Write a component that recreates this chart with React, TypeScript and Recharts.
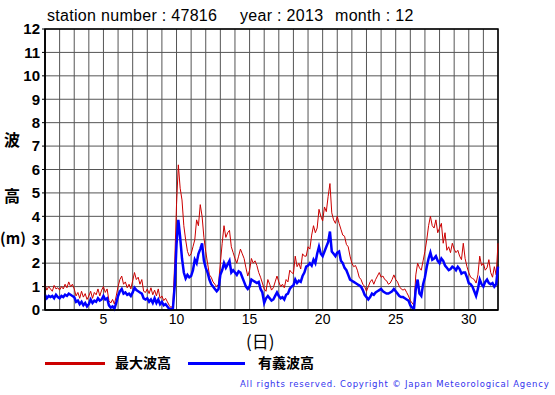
import React from "react";
import {
  LineChart,
  Line,
  XAxis,
  YAxis,
  CartesianGrid,
  ReferenceArea,
} from "recharts";

// Sample times: every 3 hours from day 1.0 to day 32.0
const stepsPerDay = 8;

// 最大波高 (max wave height, m)
const maxWave = [
  1.1, 0.85, 1.0, 0.9, 0.8, 1.05, 0.9, 0.95,
  0.85, 1.0, 0.9, 1.1, 0.95, 1.2, 1.0, 1.1,
  0.9, 0.6, 0.75, 0.5, 0.8, 0.55, 0.7, 0.45,
  0.6, 0.8, 0.5, 0.75, 0.65, 0.9, 0.6, 0.85,
  1.0, 0.75, 0.9, 0.4, 0.3, 0.45, 0.25, 0.6,
  1.0, 1.3, 1.45, 1.1, 1.2, 0.95, 1.1, 0.9,
  1.25, 1.6, 1.3, 1.4, 1.1, 1.3, 0.8, 0.75,
  0.9, 0.7, 0.95, 0.65, 0.85, 0.6, 0.9, 0.5,
  0.6, 0.4, 0.5, 0.35, 0.2, 0.1, 0.2, 2.0,
  4.5, 6.2, 5.2, 4.7, 3.6, 3.0, 2.5, 2.3,
  2.4, 2.7, 3.0, 3.85, 3.6, 4.5, 4.0, 3.1,
  2.5, 2.0, 1.5, 1.4, 1.2, 1.1, 1.0, 1.1,
  2.0, 2.85, 3.6, 3.1, 3.3, 3.4, 2.7, 2.45,
  2.2, 2.0, 2.3, 2.6, 2.4, 2.2, 1.8, 1.45,
  1.7, 2.2, 2.0, 2.1, 1.9, 1.6, 1.4, 1.15,
  0.9, 0.8, 1.3, 1.1, 0.85, 0.95, 1.2, 1.45,
  1.2, 1.0, 1.1, 0.95, 1.3, 1.2, 1.7, 1.6,
  1.55, 2.3, 1.85, 2.0, 1.75, 2.4, 2.3, 2.3,
  2.7, 2.6, 3.2, 3.6, 3.3, 3.5, 4.3, 4.0,
  3.8, 4.4, 4.2, 4.85, 5.4, 4.15, 3.85, 3.7,
  4.0, 3.7, 3.45, 3.2, 3.15, 2.8, 2.7, 2.3,
  2.0, 1.85, 1.9, 1.7, 1.4, 1.3, 1.1, 1.0,
  0.8, 1.0, 1.2, 1.3, 1.1, 1.3, 1.45, 1.6,
  1.4, 1.45, 1.3, 1.25, 1.1, 1.15, 1.3, 1.5,
  1.3, 1.2, 1.0, 0.9, 0.85, 0.9, 0.75, 0.6,
  0.4, 0.3, 0.2, 1.5, 2.0, 1.8, 1.7, 2.1,
  2.5, 3.0, 3.6, 4.0, 3.6, 3.5, 3.85, 3.3,
  3.5, 3.7, 2.85, 3.3, 2.55, 2.7, 2.45, 2.85,
  2.6, 2.45, 2.55, 2.3, 2.15, 2.85, 2.2, 1.85,
  1.6, 1.4, 1.35, 1.3, 1.15, 1.5, 2.3, 1.9,
  2.0, 1.7, 1.8, 2.15, 1.6, 1.4, 1.85, 1.5,
  2.85,
];

// 有義波高 (significant wave height, m)
const sigWave = [
  0.65, 0.5, 0.6, 0.55, 0.6, 0.5, 0.65, 0.55,
  0.5, 0.6, 0.55, 0.65, 0.6, 0.7, 0.65, 0.6,
  0.55, 0.35, 0.4, 0.25, 0.35, 0.2, 0.3, 0.15,
  0.25, 0.45, 0.3, 0.4, 0.35, 0.5, 0.4, 0.45,
  0.6, 0.45, 0.5, 0.2, 0.1, 0.15, 0.05, 0.3,
  0.6, 0.8, 0.9, 0.7, 0.75, 0.65, 0.7, 0.6,
  0.75, 0.95, 0.85, 0.8, 0.75, 0.7, 0.5, 0.45,
  0.5, 0.35, 0.45, 0.3, 0.5, 0.3, 0.45, 0.25,
  0.35, 0.2, 0.25, 0.15, 0.05, 0.03, 0.05, 1.0,
  2.8, 3.85, 3.1, 2.2, 1.6, 1.35, 1.5, 1.4,
  1.45, 1.7, 2.15, 2.0, 2.4, 2.6, 2.85, 2.1,
  1.8, 1.6, 1.3, 1.1, 1.0, 0.9, 0.8, 0.9,
  1.5, 1.7, 2.0, 1.8, 1.95, 2.1, 1.6, 1.7,
  1.6, 1.5, 1.65, 1.6, 1.4, 1.2, 1.0, 0.9,
  1.0, 1.3, 1.25, 1.2, 1.15, 1.2, 0.9, 0.75,
  0.3, 0.5, 0.6, 0.5, 0.4, 0.45, 0.6, 0.75,
  0.6, 0.5, 0.55, 0.45, 0.65, 0.7, 0.9, 1.0,
  1.05, 1.3, 1.15, 1.25, 1.2, 1.45, 1.6, 1.85,
  1.9, 2.0, 1.9, 2.15, 2.0, 2.4, 2.7, 2.4,
  2.3, 2.5, 2.7, 2.9, 3.35, 2.5, 2.4, 2.3,
  2.45, 2.5, 2.1, 2.0, 1.8, 1.7, 1.5, 1.3,
  1.25, 1.2, 1.15, 1.1, 1.05, 1.0, 0.85, 0.65,
  0.55, 0.45, 0.55, 0.7, 0.65, 0.75, 0.8, 0.85,
  0.9, 0.8, 0.75, 0.7, 0.7, 0.75, 0.8, 0.9,
  0.8, 0.7, 0.6, 0.55, 0.55, 0.5, 0.45, 0.4,
  0.2, 0.1, 0.05, 0.9, 1.3, 0.7, 0.6, 1.1,
  1.4, 1.85, 2.2, 2.45, 2.15, 2.2, 2.3, 2.1,
  2.0, 2.2, 2.1, 1.9, 1.8, 1.7, 1.75, 1.85,
  1.8, 1.7, 1.85, 1.75, 1.55, 1.6, 1.6, 1.4,
  1.15, 1.1, 1.0, 0.8, 0.6, 0.9, 1.3, 1.1,
  1.0, 1.2, 1.3, 1.15, 1.1, 1.15, 1.0, 1.1,
  1.85,
];

const dayTicks = [
  1, 2, 3, 4, 5, 6, 7, 8, 9, 10, 11, 12, 13, 14, 15, 16,
  17, 18, 19, 20, 21, 22, 23, 24, 25, 26, 27, 28, 29, 30, 31, 32,
];
const labeledDays = [5, 10, 15, 20, 25, 30];
const heightTicks = [0, 1, 2, 3, 4, 5, 6, 7, 8, 9, 10, 11, 12];

const titleStation = "station number : 47816";
const titleYear = "year : 2013";
const titleMonth = "month : 12";
const seriesNames = ["最大波高", "有義波高"];
const yLabelParts = ["波", "高", "(m)"];
const xLabel = "(日)";
const copyright = "All rights reserved. Copyright © Japan Meteorological Agency";

const RED = "#cc0000";
const BLUE = "#0000ff";

const data = maxWave.map((v, i) => ({
  t: 1 + i / stepsPerDay,
  max: v,
  sig: sigWave[i],
}));

const latin = '"Liberation Sans", Arial, Helvetica, sans-serif';
const cjk = '"Noto Sans CJK JP", "Noto Sans", sans-serif';

const abs = (left: number, top: number, extra: React.CSSProperties = {}): React.CSSProperties => ({
  position: "absolute",
  left,
  top,
  whiteSpace: "nowrap",
  lineHeight: 1,
  ...extra,
});

export default function App() {
  return (
    <div
      style={{
        position: "absolute",
        left: 0,
        top: 0,
        width: 555,
        height: 395,
        background: "#fff",
        overflow: "hidden",
      }}
    >
      <LineChart
        width={555}
        height={395}
        data={data}
        margin={{ top: 29, right: 57, left: 0, bottom: 65 }}
      >
        <CartesianGrid stroke="#555" strokeWidth={1} />
        <XAxis
          dataKey="t"
          type="number"
          domain={[1, 32]}
          ticks={dayTicks}
          interval={0}
          height={20}
          tickLine={false}
          axisLine={{ stroke: "#000", strokeWidth: 1.5 }}
          tickSize={0}
          tickMargin={4}
          tick={{ fill: "#000", fontSize: 14, fontFamily: latin }}
          tickFormatter={(d: number) => (labeledDays.includes(d) ? String(d) : "")}
        />
        <YAxis
          type="number"
          domain={[0, 12]}
          ticks={heightTicks}
          interval={0}
          width={45}
          tickLine={{ stroke: "#000" }}
          tickSize={3}
          tickMargin={2}
          axisLine={{ stroke: "#000", strokeWidth: 1.5 }}
          tick={{ fill: "#000", fontSize: 15, fontWeight: "bold", fontFamily: latin }}
        />
        <ReferenceArea
          x1={1}
          x2={32}
          y1={0}
          y2={12}
          fill="none"
          fillOpacity={0}
          stroke="#000"
          strokeWidth={1.5}
          ifOverflow="visible"
        />
        <Line
          type="linear"
          dataKey="max"
          stroke={RED}
          strokeWidth={1}
          dot={false}
          isAnimationActive={false}
        />
        <Line
          type="linear"
          dataKey="sig"
          stroke={BLUE}
          strokeWidth={2.5}
          dot={false}
          isAnimationActive={false}
        />
      </LineChart>

      <div style={abs(47, 8, { fontFamily: latin, fontSize: 16, letterSpacing: 0.3 })}>{titleStation}</div>
      <div style={abs(240, 8, { fontFamily: latin, fontSize: 16, letterSpacing: 0.3 })}>{titleYear}</div>
      <div style={abs(335, 8, { fontFamily: latin, fontSize: 16, letterSpacing: 0.3 })}>{titleMonth}</div>

      <div style={abs(4, 131, { fontFamily: cjk, fontSize: 16, fontWeight: "bold" })}>{yLabelParts[0]}</div>
      <div style={abs(4, 187, { fontFamily: cjk, fontSize: 16, fontWeight: "bold" })}>{yLabelParts[1]}</div>
      <div style={abs(0, 230, { fontFamily: cjk, fontSize: 15, fontWeight: "bold" })}>{yLabelParts[2]}</div>

      <div style={abs(246, 332, { fontFamily: cjk, fontSize: 17 })}>{xLabel}</div>

      <div style={abs(45, 362, { width: 60, height: 3, background: RED })} />
      <div style={abs(115, 355, { fontFamily: cjk, fontSize: 14, fontWeight: "bold" })}>{seriesNames[0]}</div>
      <div style={abs(188, 362, { width: 57, height: 3, background: BLUE })} />
      <div style={abs(258, 355, { fontFamily: cjk, fontSize: 14, fontWeight: "bold" })}>{seriesNames[1]}</div>

      <div
        style={abs(240, 380, {
          fontFamily: '"DejaVu Sans", sans-serif',
          fontSize: 8.5,
          letterSpacing: 0.8,
          color: "#3333ee",
        })}
      >
        {copyright}
      </div>
    </div>
  );
}
